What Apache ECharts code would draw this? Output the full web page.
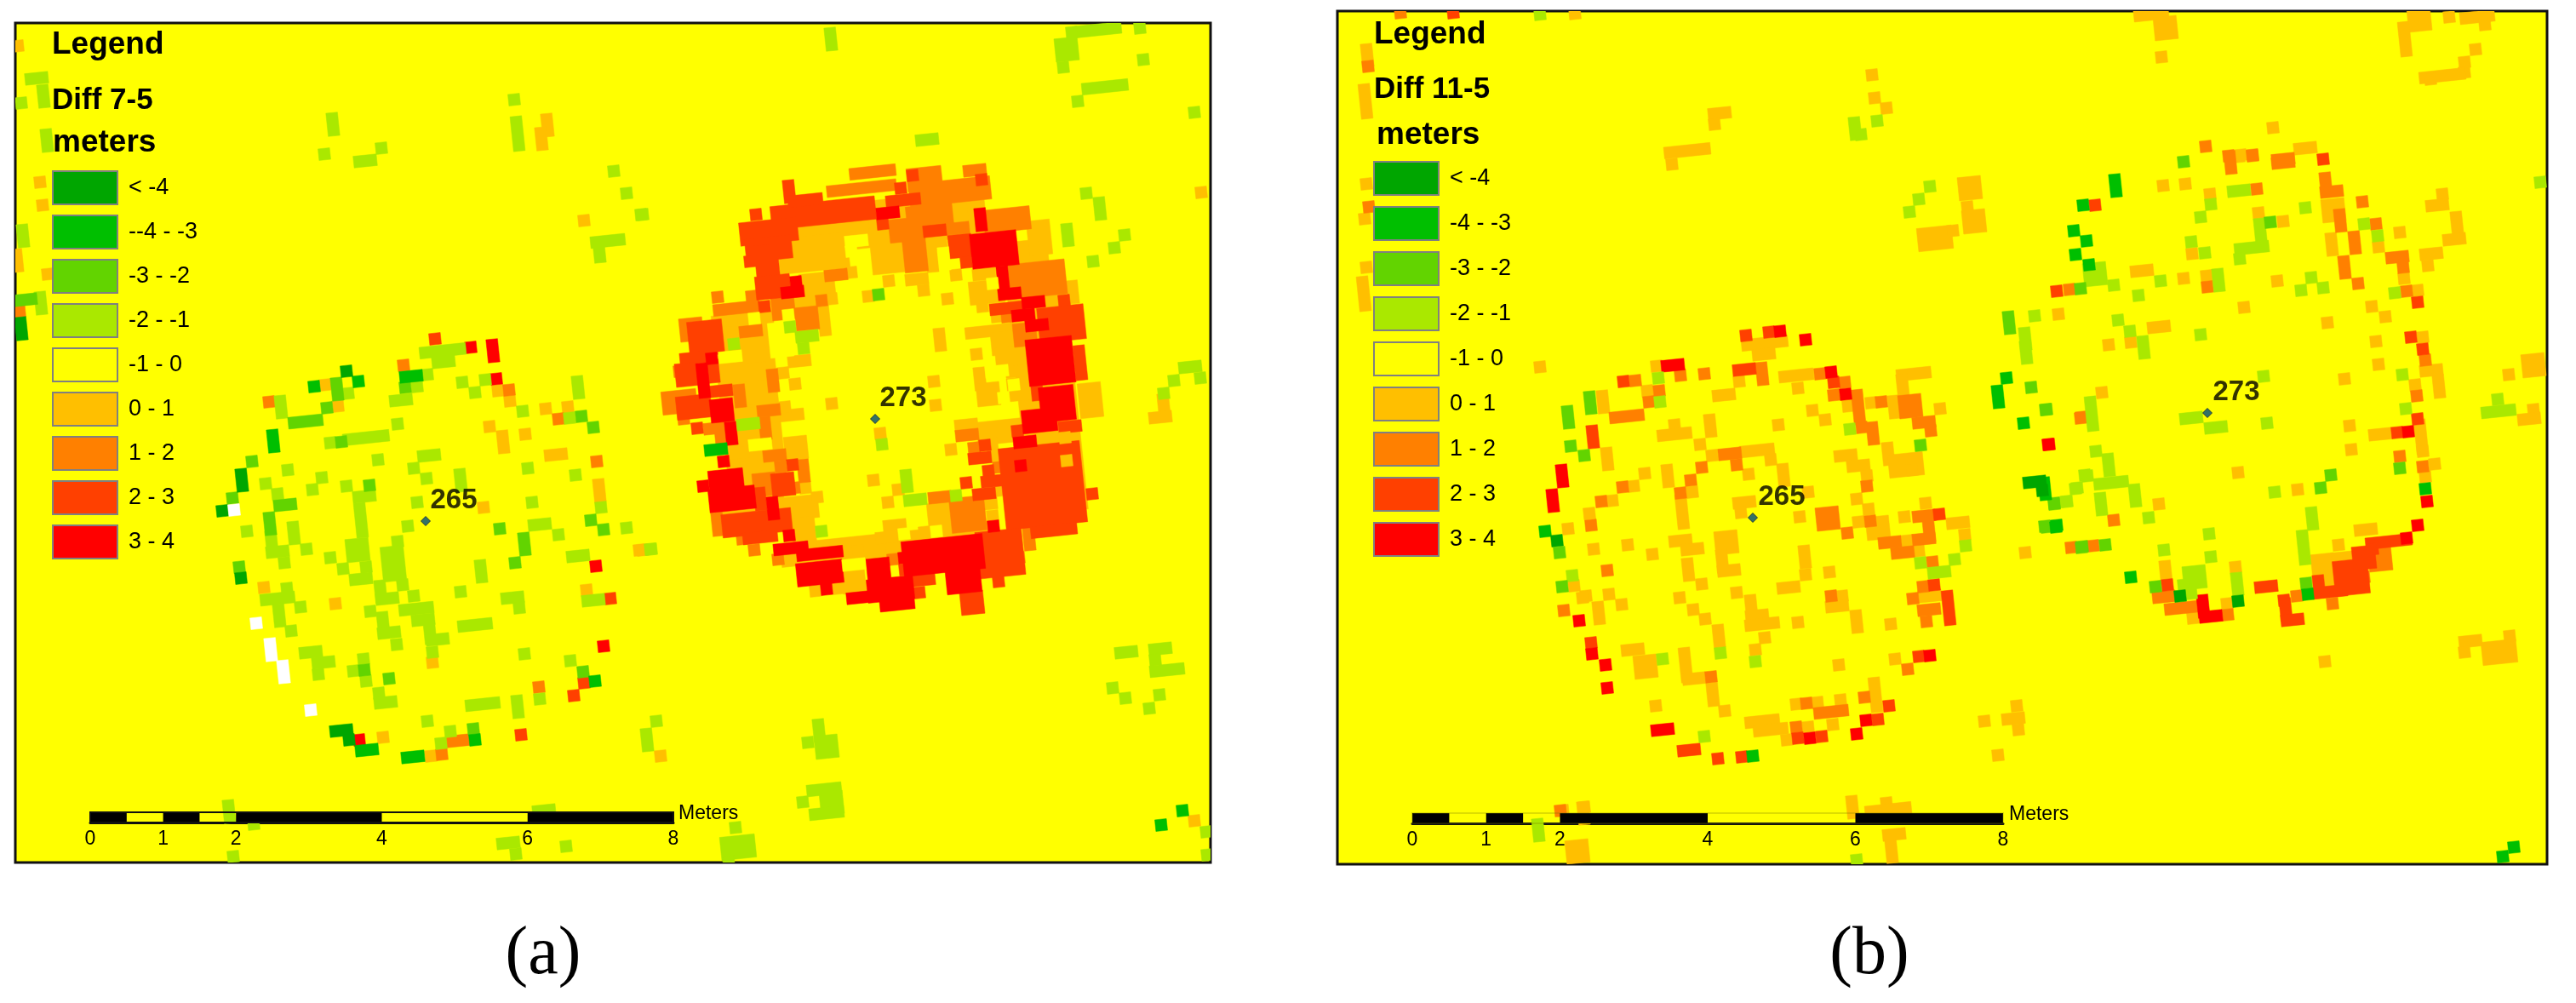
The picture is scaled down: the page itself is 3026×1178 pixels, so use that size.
<!DOCTYPE html>
<html>
<head>
<meta charset="utf-8">
<title>Diff maps</title>
<script src="https://cdn.jsdelivr.net/npm/echarts@6/dist/echarts.min.js"></script>
<style>html,body{margin:0;background:#fff}#chart{width:3026px;height:1178px}</style>
</head>
<body>
<div id="chart"></div>
<script>
//class labels of the two legends
var aLabels = ['< -4', '--4 - -3', '-3 - -2', '-2 - -1', '-1 - 0', '0 - 1', '1 - 2', '2 - 3', '3 - 4'];
var bLabels = ['< -4', '-4 - -3', '-3 - -2', '-2 - -1', '-1 - 0', '0 - 1', '1 - 2', '2 - 3', '3 - 4'];
var classColors = ['#00a600', '#00bf00', '#62d400', '#aae800', '#ffff00', '#ffbf00', '#ff8000', '#ff4000', '#ff0000'];
//scale bar
var scaleTicks = [0, 1, 2, 4, 6, 8];
var scaleBlack = [[0, 0.5], [1, 1.5], [2, 4], [6, 8]];
//numbered points [x, y, number]
var aPoints = [[1028, 492, '273'], [500, 612, '265']];
var bPoints = [[2593, 485, '273'], [2059, 608, '265']];

//raster runs of each class, [x, y, cells along, cells down]
//panel a
var aLt4 = [[25,386,1,2],[407,436],[284,564,1,2],[261,600],[283,679],[401,858,2,1],[410,869]];
var aM43 = [[483,442,2,1],[321,518,1,2],[369,454],[421,448],[699,800],[558,869],[431,881,2,1],[485,889,2,1],[841,528,2,1],[1389,952],[1364,969]];
var aM32 = [[30,352,2,1],[396,457,1,2],[384,479],[359,495,3,1],[296,542],[335,593,2,1],[273,585],[317,615,1,2],[434,570],[401,519],[683,489],[697,502],[694,611],[709,622],[587,621],[616,639,1,2],[605,661],[281,666],[556,856],[685,789],[428,787],[457,797],[476,455],[1032,346]];
var aM21 = [[43,92,2,1],[51,113,1,2],[25,121],[55,165,1,2],[27,277,1,2],[48,356,1,2],[391,146,1,2],[381,181],[429,189,2,1],[448,174],[604,117],[608,157,1,3],[721,201],[736,227],[753,252],[714,283,3,1],[704,295,1,2],
  [520,412,4,1],[521,425,2,1],[502,440],[490,454],[471,470,2,1],[543,449],[570,446],[558,461],[614,483],[679,455,1,2],[669,491],[330,478,1,2],[409,462],
  [467,498],[430,514,4,1],[388,520],[444,540],[504,535,2,1],[486,550],[501,562],[338,552],[378,561],[312,568],[367,575],[326,580],[407,571],[541,564,1,2],[490,590],[428,583,2,1],[620,550],[676,558],[625,590],[706,596],[634,616,2,1],[656,628],[736,620],[765,645],[679,653,2,1],[479,618],[290,624],[345,626,1,2],[360,645],
  [424,611,1,3],[420,646,2,2],[430,666],[424,680,2,1],[388,655],[403,668],[467,636],[462,662,2,3],[473,687],[447,695,1,2],[455,703,2,1],[435,718],[486,700],[489,715,3,1],[497,728,2,1],[505,743,1,2],[514,751,2,1],[508,766],[450,732,1,2],[457,743,2,1],[466,757],
  [319,637,1,2],[326,648,2,1],[334,661],[337,691],[326,703,3,1],[328,723,1,2],[353,713],[342,741],[365,766,2,1],[380,778,2,1],[374,792],[427,774],[415,788],[430,800],[445,814],[453,825,2,1],
  [565,671,1,2],[541,695],[602,702,2,1],[610,714],[558,734,3,1],[616,768],[670,776],[697,705,2,1],[634,821],[567,827,3,1],[608,830,1,2],[502,847],[529,859],[518,873],[771,847],[760,869,1,2],
  [269,953,1,2],[298,968],[274,1006],[639,952,2,1],[597,990,2,1],[606,1003],[665,994],[864,972],[867,995,3,2],[856,1012],
  [976,46,1,2],[1290,35,4,1],[1259,38],[1253,58,2,2],[1249,79],[1339,33],[1343,70],[1298,102,4,1],[1266,119],[1403,132],[1089,164,2,1],
  [755,252],[1276,227],[1292,245,1,2],[1254,276,1,2],[1321,276],[1309,291],[1284,307],[1398,431,2,1],[1410,444],[1379,447],[1367,462],[1323,766,2,1],[1363,762,2,1],[1357,775],[1371,787,3,1],[764,645],
  [1307,808],[1322,820],[1362,816],[1350,832],[962,858,1,2],[949,872],[971,877,2,2],[968,927,3,1],[977,943,2,2],[971,955,3,1],[943,942],[1417,977],[1418,1004],
  [862,404],[879,498,2,1],[928,384],[948,395,2,1],[944,409],[1036,522],[1065,565,1,2],[1075,587,2,1],[1123,582],[965,624]];
var aM10 = [[1006,283,2,1],[1000,295],[1014,307],[886,374],[926,370],[858,419,2,1],[917,399,2,3],[893,522,2,1],[1109,304,1,2],[1166,333],[1191,452],[1179,467],[1171,436,2,1],[1003,663,2,1],[1062,627],[1100,624]];
//0 - 1 band under the ring of panel a, then the cells themselves
var a01 = [[1035,262,18,4],[1230,465,5,20],[1205,310,4,4],[880,470,5,15],[880,590,6,5],[1040,640,18,2],
  [21,54],[47,214],[50,241],[56,322],[20,306,1,2],[643,147,1,2],[636,163,1,2],[686,259],
  [382,452],[397,477],[585,459],[599,471],[641,480],[667,478],[575,501],[591,519,1,2],[617,510],[653,534,2,1],[704,576,1,2],[568,596],[751,646],[689,693],[310,690],[394,709],[508,778],[450,866],[506,888],[776,888],
  [1411,226],[1367,476,1,2],[1363,490,2,1],[755,646],[1403,964],
  [955,291,6,4],[980,267,6,1],[1050,293,4,4],[1000,320],[960,334,3,2],[977,351],[944,355,2,1],[968,374,1,3],[1044,330],[1020,348],[1077,328,2,1],[1085,341],[1099,287,2,1],[1095,306,1,2],[1123,323],[1113,351],[1123,248,2,2],[1097,259,2,1],[1156,322,2,1],[1159,343,3,2],[1154,360],[1221,279,2,3],[1260,343,1,2],[1171,372],[1161,389,4,1],[1178,403,2,2],[1190,420,3,2],[1147,416],[1197,457,2,2],[1195,436,2,1],[1151,445,1,2],[1161,463,2,2],[1175,507,4,2],[1135,499,2,1],[1166,528,1,2],[1281,470,2,3],[1158,592,2,1],[1166,606],[1175,576],[1188,561],[1104,611,2,3],[1051,617,2,1],[1042,631,2,1],[1054,644,2,1],[1086,625],[1008,647],[953,640],[941,596,3,2],[944,621,2,2],[960,584],[946,573],[1043,590],[1055,575],[1026,564],[1003,683,2,2],[985,691],[958,694],
  [867,532,2,1],[889,548,3,1],[877,565],[935,526,2,2],[873,376],[861,390],[889,416,3,3],[874,441,4,2],[889,461,3,2],[877,486,2,1],[924,488,3,1],[922,478],[920,438],[934,451],[939,424,2,1],[903,387,1,3],[977,474],[1097,448],[1099,476],[1104,399,1,2],[1034,509],[1117,528]];
var a12 = [[23,366],[474,429],[598,458],[656,492],[701,542],[316,472],[633,807],[538,870,2,1],[519,886],
  [1025,202,4,1],[1012,221,6,1],[1086,210,3,2],[1145,200,2,1],[1116,225,7,2],[1092,254,4,2],[1065,270,3,2],[1183,258,4,2],[1125,268,2,1],[1075,299,2,3],[1218,328,5,3],
  [865,362,4,1],[843,349],[812,387,2,2],[798,436],[883,348],[882,389,2,1],[920,362,2,2],[948,374,2,2],[965,353],[982,323,2,1],[798,472,3,2],[803,492],[840,503,2,1],[847,515],[869,465,1,2],[908,447,1,2],[903,482,2,1],[899,503,1,2],[910,535,2,1],[917,548],[944,553,1,2],[898,569,2,2],[933,573],[843,616,1,2],[872,633],[886,646],[914,657],[1104,584,2,1],[1137,604,3,3],[1049,657],[1209,633,1,2],[1197,655],[1136,511,2,1],[1144,526],[1183,372],[1204,393,2,2],[1180,548,2,1]];
var a23 = [[511,398],[717,703],[686,802],[674,817],[612,863],
  [967,250,9,2],[927,225,1,2],[946,235,3,1],[903,272,5,2],[888,252],[903,292,4,2],[901,308,2,3],[881,307],[908,337,3,2],[898,360],[1058,221],[1061,235,3,1],[1072,206],[1153,211],[1037,263],[1098,271,2,1],[1128,289,2,2],[1135,308],
  [829,397,3,3],[819,420,3,1],[807,440,2,2],[815,478,3,2],[819,503],[847,459,2,1],[838,436,1,2],[1183,362,3,1],[1250,353],[1247,380,4,3],[1269,426,1,3],[1218,457,1,2],[1257,501,2,1],
  [1225,570,7,7],[1238,623,4,1],[1283,580],[1190,534,2,1],[1175,650,4,4],[1173,683],[1142,708,2,2],[1085,681,2,1],[1080,696],[1063,669],[1151,538,2,1],[1157,523],[1161,553],[1166,565,2,1],[1156,580,2,1],[1135,567],[889,614,6,2],[893,631,3,1],[893,586,1,2],[920,569,2,2],[931,546],[1195,506]];
var a34 = [[553,408],[579,412,1,2],[583,445],[700,665],[709,759],[422,869],
  [1043,250,2,1],[1152,258,1,2],[1168,293,4,3],[1178,326,1,2],[1186,345,2,1],[1214,355,2,1],[1202,370,2,1],[1218,382,2,1],[1234,424,4,4],[1242,474,3,3],[1221,494,3,2],[1204,519,2,1],[1199,547],[1167,618],[935,331],[931,343,2,1],[836,421],[826,447,1,3],[848,482,2,2],[859,509,1,2],[850,542],[853,565,3,2],[826,571],[860,586,4,2],[908,597,1,2],[927,629],[929,644,3,1],[963,650,4,1],[963,673,4,2],[971,692],[1032,669,2,2],[1046,692,4,2],[1008,702,2,1],[1054,710,3,1],[1108,652,7,3],[1062,655],[1132,683,3,2]];
//0 - 1 cells sitting inside the 2 - 3 block
var a01Inset = [[1253,541],[1251,514]];
var aNoData = [[275,599],[301,732],[318,763,1,2],[333,789,1,2],[365,834]];

//panel b
var bLt4 = [[2561,700],[2629,706],[2390,566,2,1],[2399,576],[1829,635]];
var bM43 = [[2357,444],[2347,466,1,2],[2377,497],[2416,617],[2059,888],[2485,218,1,2],[2447,241],[2436,271],[2451,283],[2438,299],[2454,311],[2415,619],[2503,678],[2711,698],[2849,574],[2402,574,1,2],[1815,624],[2953,995],[2940,1006]];
var bM32 = [[1868,473,1,2],[1861,535],[2256,523],[2386,455],[2403,481],[2413,591],[2402,618],[2446,642],[1842,490,1,2],[1845,524],[1832,649],[1835,689],[2360,379,1,2],
  [2565,190],[2667,261],[2444,339],[2404,481],[2819,550],[2738,558],[2726,573],[2413,592],[2445,643],[2473,640],[2532,689],[2404,619],[2709,685]];
var bM21 = [[1809,17],[2267,219],[2254,234],[2243,249],[2205,142],[2179,151,1,2],[2186,158],[1948,444],[1950,472],[2173,504],[2309,641],[2296,657],[2256,661],[2278,672,2,1],[1953,774],[2021,767],[2062,777],[2002,865],[2428,589],[2440,573],[2449,558],[1847,676],[1807,975,1,2],[2181,1010],[2379,398,1,2],[2380,414,1,2],[2390,371],
  [2630,224,2,1],[2597,240],[2585,255],[2708,244],[2655,270,1,2],[2645,291,3,1],[2631,304],[2574,284],[2590,297],[2461,322,2,2],[2483,335],[2538,330],[2512,347],[2606,329,1,2],[2777,263],[2793,277],[2715,326],[2703,341],[2729,338],[2813,344],[2488,376],[2502,389],[2585,393],[2518,408,1,2],[2659,442],[2822,440],[2826,480],[2457,486,1,3],[2462,530],[2574,491,2,1],[2603,502,2,1],[2663,497],[2477,546,1,2],[2452,559],[2438,574],[2480,567,3,1],[2508,582,1,2],[2468,592,1,2],[2524,608],[2427,589],[2595,627],[2716,609,1,2],[2706,643,1,3],[2597,654],[2542,646],[2578,678,2,2],[2565,687],[2574,697],[2628,686,1,2],[2672,578],[2935,483,3,1],[2934,469],[2984,214]];
var bM10 = [];
var b01 = [[1606,65,1,2],[1604,119,1,3],[1605,216],[1603,257],[1605,314],[1602,345,1,3],[1850,16],[2199,88],[2202,115],[2216,127],[2020,133,2,1],[2014,146],[1982,177,4,1],[1964,193],[2314,221,2,2],[2311,243],[2319,260,2,2],[2273,280,3,2],[2294,271],[1809,431],[2073,403,4,1],[2072,416,2,1],
  [1946,430],[2043,448],[2110,441,3,1],[2112,456],[2248,439,3,1],[2235,453,1,2],[1883,472,1,2],[1935,459],[2025,464,2,1],[2129,482],[2144,493],[2089,499],[2198,473],[2225,478,1,2],[2171,477],[2279,480],[2009,500,1,2],[1967,499],[1967,510,3,1],[1997,522],[2011,535],[2064,529,3,1],[2080,540],[1888,539,1,2],[1932,556],[1959,559,1,2],[2054,557],[2095,558,1,2],[1919,571],[1988,578],[1894,588],[1867,603],[1976,601,1,3],[1974,635,2,1],[1988,645,2,1],[1983,669,1,2],[1999,686],[1973,702],[1989,716],[2003,727],[2019,747,1,2],[2040,696],
  [2049,590,2,1],[2045,602],[2028,637,2,2],[2023,659,1,2],[2031,670,2,1],[2114,607],[2124,578],[2168,535,2,1],[2183,547,2,1],[2193,559],[2181,586],[2195,598],[2183,613],[2206,620,2,2],[2218,533,1,2],[2239,546,3,2],[2246,552],[2237,607],[2300,614,2,1],[2308,628],[2241,635],[2254,647],[2262,591],[2267,700,2,1],[2120,654,1,2],[2121,675],[2101,690,2,1],[2149,672],[2164,700],[2158,712,2,1],[2181,730,1,2],[2221,733],[2379,649],[2057,712,1,2],[2064,723,2,1],[2070,733,3,1],[2073,749],[2112,731],[2062,763],[2160,781],[2226,774],[1918,763,2,1],[1933,783,2,2],[1872,645],[1912,640],[1941,651],[1863,700],[1890,698],[1905,710],[1878,720,1,2],[1980,781,1,3],[1990,797,2,1],[2012,816,1,2],[2026,835],[1945,829],[2070,847,3,1],[2080,857,3,1],[2099,869],[2110,827],[2135,825],[2162,822],[2124,854],[2153,851],[2203,816,1,3],[2347,887],[2331,847],[2369,829],[2365,844,2,1],[2371,857],[1861,948],[2176,948,1,2],[2216,943],[2218,951,4,1],
  [1842,621],[1849,688],[1859,702],[1853,1000,2,2],[1836,952],[1860,955,1,2],[2225,980,2,1],[2222,1000,1,2],
  [2630,184],[2541,218],[2567,216],[2596,228],[2653,250],[2682,260],[2741,247,2,2],[2739,287,1,2],[2819,273],[2794,290],[2824,327],[2840,341],[2575,298],[2516,318,2,1],[2565,327],[2592,324],[2675,330],[2636,361],[2786,360],[2802,372],[2734,379],[2418,369],[2536,384,2,1],[2477,405],[2503,402],[2469,461],[2754,445],[2791,401],[2794,428],[2846,396],[2856,435,2,1],[2865,454,1,2],[2837,452],[2760,500],[2762,528],[2796,510,2,1],[2844,513,1,3],[2846,530],[2860,545],[2849,560],[2629,555],[2699,575],[2536,592],[2626,666],[2544,672,1,2],[2616,709],[2576,726],[2779,622,2,1],[2747,640],[2729,664,2,2],[2752,655,2,1],[2737,682],[2869,228],[2863,241,2,1],[2886,262,1,2],[2883,281,2,1],[2856,298,2,1],[2852,312],[2976,429,2,2],[2947,440],[2976,481],[2971,492,2,1],[2902,753,2,1],[2895,766],[2936,766,3,2],[2948,747],[2731,777],
  [2527,17,3,1],[2544,33,2,2],[2539,67],[2842,23,2,2],[2825,46,1,3],[2877,20],[2910,20,3,1],[2919,29],[2908,58],[2895,73],[2895,85],[2869,89,4,1],[2855,93],[2670,150],[2708,174,2,1],[2632,182]];
var b12 = [[1607,78],[1608,243],[1645,15],[1921,447],[1974,441],[2002,439],[2070,439,1,2],[2138,439],[1949,459],[1937,472],[1911,489,3,1],[2154,464],[2167,449],[2183,478,1,3],[2187,502],[2200,509,1,2],[2210,472],[2244,477,2,2],[2260,496,2,1],[2268,506],[2032,533,2,1],[2040,546],[1999,549],[1986,564],[1974,579],[1906,572],[1881,589],[1869,617],[2193,571],[2147,609,2,2],[2170,626],[2197,612],[2260,606,2,1],[2266,623,1,2],[2260,633,2,1],[2220,637,2,1],[2235,649,2,1],[2270,660],[2259,689],[2247,703],[2266,716,2,1],[2263,730],[2151,700],[1888,670],[2010,795],[2241,786],[2190,819],[2122,826],[2151,836,3,1],[2110,854],[2445,490],[1837,717],[1833,952],
  [2620,191,1,2],[2646,183],[2682,191,2,1],[2651,222],[2732,216,1,2],[2739,225,2,1],[2775,237],[2749,259,1,2],[2791,263],[2766,285,1,2],[2754,314,1,2],[2770,333],[2816,302,2,1],[2823,314],[2827,342],[2431,340],[2593,337],[2444,491],[2849,423],[2839,465],[2819,536],[2846,548],[2483,611],[2433,643],[2459,641],[2542,701,2,1],[2563,714,3,1],[2617,722],[2698,700],[2740,709],[2777,678],[2796,657,2,2],
  [2591,172],[2618,183],[2646,182],[2682,187,2,1]];
var b23 = [[1707,15],[2051,394],[2078,390],[1907,448],[2049,434,2,1],[2154,449],[1871,513,1,2],[2278,604],[2272,687],[2289,714,1,3],[1869,755],[2254,771],[2219,829],[2206,845],[2140,865],[2112,867],[1984,881,2,1],[2018,891],[2046,889],
  [2729,187],[2416,342],[2832,396],[2846,410],[2840,492],[2816,508],[2840,355],[2546,687],[2662,689,2,1],[2683,705],[2685,716,1,2],[2693,728,2,1],[2724,689,1,2],[2737,695,3,1],[2762,678,3,3],[2777,655,2,2],[2806,636,4,1],[2787,645],[2461,241]];
var b34 = [[2091,389],[2121,399],[1965,429,2,1],[2151,437],[1855,729],[1886,781],[1888,808],[1953,857,2,1],[2126,867],[2192,846],[2181,862],[2267,770],[1870,768],[2168,463],[2406,522],[1835,559,1,2],[1824,588,1,2],
  [2407,522],[2829,507],[2851,589],[2840,617],[2827,632],[2588,712,1,2],[2597,724,2,1]];

//raster cell size in map units and raster tilt
var CELL = 13.7;
var TILT = 6 * Math.PI / 180;

var chart = echarts.init(document.getElementById('chart'));
var fontSans = '"Liberation Sans", Arial, sans-serif';

//one run of raster cells
function renderRun(color) {
  return function (params, api) {
    var c = api.coord([api.value(0), api.value(1)]);
    var unit = api.size([1, 1]);
    var w = api.value(2) * CELL * unit[0] / 2;
    var h = api.value(3) * CELL * unit[1] / 2;
    var cos = Math.cos(TILT), sin = Math.sin(TILT);
    var corner = function (a, b) {
      return [c[0] + a * w * cos + b * h * sin, c[1] - a * w * sin + b * h * cos];
    };
    return {
      type: 'polygon',
      shape: {points: [corner(-1, -1), corner(1, -1), corner(1, 1), corner(-1, 1)]},
      style: {fill: color, stroke: color, lineWidth: 0.5}
    };
  };
}

function runSeries(name, runs, color, index) {
  return {
    type: 'custom',
    name: name,
    xAxisIndex: index,
    yAxisIndex: index,
    clip: true,
    silent: true,
    animation: false,
    itemStyle: {color: color},
    renderItem: renderRun(color),
    dimensions: ['x', 'y', 'along', 'down'],
    encode: {x: 0, y: 1},
    data: runs.map(function (r) {
      return [r[0], r[1], r[2] === undefined ? 1 : r[2], r[3] === undefined ? 1 : r[3]];
    })
  };
}

//paint order: warm classes, holes, then the greens
function panelSeries(labels, classes, index) {
  var order = [5, 6, 7, 8, 4, 3, 2, 1, 0];
  return order.map(function (i) {
    return runSeries(labels[i], classes[i], classColors[i], index);
  });
}

function scaleSeries(index) {
  return {
    type: 'custom',
    xAxisIndex: index,
    yAxisIndex: index,
    silent: true,
    animation: false,
    renderItem: function (params, api) {
      var p0 = api.coord([api.value(0), 1]);
      var p1 = api.coord([api.value(1), 0]);
      return {type: 'rect', shape: {x: p0[0], y: p0[1], width: p1[0] - p0[0], height: p1[1] - p0[1]}, style: {fill: '#000'}};
    },
    encode: {x: [0, 1]},
    data: scaleBlack
  };
}

function pointSeries(points, index, labelOffset) {
  return {
    type: 'scatter',
    xAxisIndex: index,
    yAxisIndex: index,
    symbol: 'diamond',
    symbolSize: 11,
    silent: true,
    animation: false,
    z: 5,
    itemStyle: {color: '#00507f', borderColor: '#102030', borderWidth: 1},
    label: {
      show: true,
      position: 'inside',
      offset: labelOffset,
      formatter: function (p) { return p.value[2]; },
      color: '#000',
      fontSize: 33,
      fontWeight: 'bold',
      fontFamily: fontSans
    },
    data: points
  };
}

function mapAxes(min, max) {
  return {type: 'value', show: false, min: min, max: max, splitLine: {show: false}};
}

function scaleAxis(index) {
  return {
    type: 'value',
    gridIndex: index,
    min: 0,
    max: 8,
    axisLine: {show: true, onZero: false, lineStyle: {color: '#111', width: 3}},
    axisTick: {show: false},
    splitLine: {show: false},
    axisLabel: {customValues: scaleTicks, fontSize: 23, color: '#000', margin: 8, fontFamily: fontSans}
  };
}

function legendOf(labels, left, top, gap) {
  return {
    orient: 'vertical',
    left: left,
    top: top,
    padding: 0,
    itemWidth: 76,
    itemHeight: 39,
    itemGap: gap,
    icon: 'rect',
    selectedMode: false,
    data: labels,
    itemStyle: {borderColor: '#808080', borderWidth: 2},
    textStyle: {fontSize: 27, color: '#000', fontFamily: fontSans, padding: [0, 0, 0, 8]}
  };
}

function textAt(text, x, y, font, align) {
  return {
    type: 'text',
    z: 10,
    style: {text: text, x: x, y: y, font: font, fill: '#000', align: align || 'left', verticalAlign: 'middle'}
  };
}

var aClasses = [aLt4, aM43, aM32, aM21, aM10, a01, a12, a23, a34];
var bClasses = [bLt4, bM43, bM32, bM21, bM10, b01, b12, b23, b34];

var option = {
  backgroundColor: '#fff',
  animation: false,
  grid: [
    {left: 18, top: 27, width: 1404, height: 986, show: true, backgroundColor: '#ffff00', borderColor: '#111', borderWidth: 3},
    {left: 106, top: 954, width: 685, height: 12, show: true, backgroundColor: 'transparent', borderColor: '#111', borderWidth: 2, z: 4},
    {left: 1571, top: 13, width: 1421, height: 1002, show: true, backgroundColor: '#ffff00', borderColor: '#111', borderWidth: 3},
    {left: 1659, top: 955, width: 694, height: 12, show: true, backgroundColor: 'transparent', borderColor: 'rgba(120,120,0,0.25)', borderWidth: 2, z: 4}
  ],
  xAxis: [
    Object.assign(mapAxes(18, 1422), {gridIndex: 0}),
    scaleAxis(1),
    Object.assign(mapAxes(1571, 2992), {gridIndex: 2}),
    scaleAxis(3)
  ],
  yAxis: [
    Object.assign(mapAxes(27, 1013), {gridIndex: 0, inverse: true}),
    {type: 'value', show: false, gridIndex: 1, min: 0, max: 1},
    Object.assign(mapAxes(13, 1015), {gridIndex: 2, inverse: true}),
    {type: 'value', show: false, gridIndex: 3, min: 0, max: 1}
  ],
  legend: [legendOf(aLabels, 61, 200, 11), legendOf(bLabels, 1613, 189, 12)],
  graphic: [
    textAt('Legend', 61, 53, 'bold 37px ' + fontSans),
    textAt('Diff 7-5', 61, 118, 'bold 35px ' + fontSans),
    textAt('meters', 62, 168, 'bold 37px ' + fontSans),
    textAt('Meters', 797, 956, '23px ' + fontSans),
    textAt('(a)', 638, 1122, '80px "Liberation Serif", serif', 'center'),
    textAt('Legend', 1614, 41, 'bold 37px ' + fontSans),
    textAt('Diff 11-5', 1614, 105, 'bold 35px ' + fontSans),
    textAt('meters', 1617, 159, 'bold 37px ' + fontSans),
    textAt('Meters', 2360, 957, '23px ' + fontSans),
    textAt('(b)', 2196, 1122, '80px "Liberation Serif", serif', 'center')
  ],
  series: panelSeries(aLabels, aClasses, 0)
    .concat([runSeries('0 - 1', a01Inset, classColors[5], 0), runSeries('no data', aNoData, '#ffffff', 0), scaleSeries(1), pointSeries(aPoints, 0, [33, -24])])
    .concat(panelSeries(bLabels, bClasses, 2))
    .concat([scaleSeries(3), pointSeries(bPoints, 2, [34, -24])])
};
chart.setOption(option);
</script>
</body>
</html>
